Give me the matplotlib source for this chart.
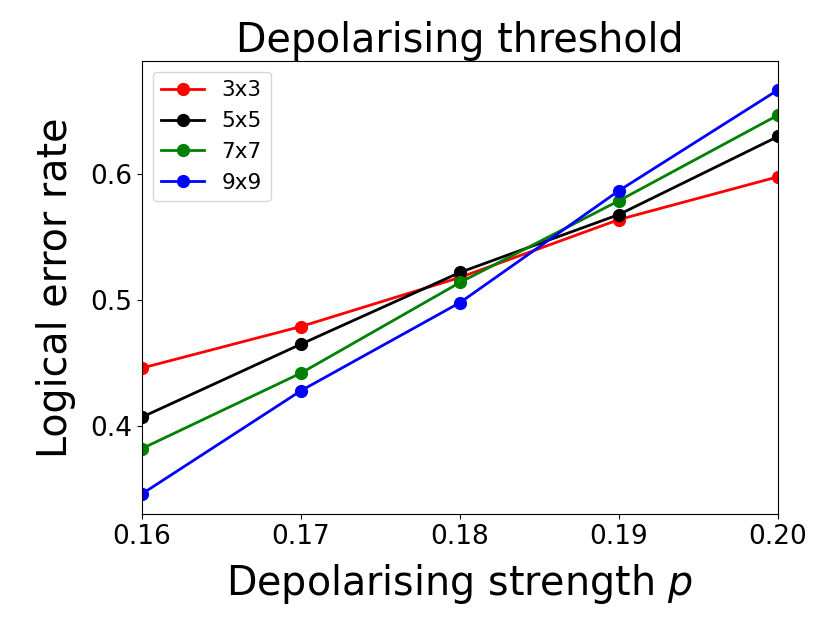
import matplotlib
matplotlib.use("Agg")
import matplotlib.pyplot as plt

p = [0.16, 0.17, 0.18, 0.19, 0.20]
labels = ["3x3", "5x5", "7x7", "9x9"]
colors = ["red", "black", "green", "blue"]
err_3x3 = [0.446, 0.479, 0.518, 0.564, 0.598]
err_5x5 = [0.407, 0.465, 0.522, 0.568, 0.630]
err_7x7 = [0.382, 0.442, 0.514, 0.579, 0.647]
err_9x9 = [0.346, 0.428, 0.498, 0.587, 0.667]
series = [err_3x3, err_5x5, err_7x7, err_9x9]

fig = plt.figure(figsize=(8.3, 6.23), dpi=100)
ax = fig.add_axes([142/830, 1-514/623, (778-142)/830, (514-61)/623])
for y, lab, c in zip(series, labels, colors):
    ax.plot(p, y, "-o", color=c, label=lab, linewidth=2, markersize=8.5)
ax.set_xlim(0.16, 0.20)
ax.set_ylim(0.330, 0.690)
ax.set_xticks(p)
ax.set_xticklabels(["0.16", "0.17", "0.18", "0.19", "0.20"])
ax.set_yticks([0.4, 0.5, 0.6])
ax.set_yticklabels(["0.4", "0.5", "0.6"])
ax.tick_params(labelsize=19)
ax.set_xlabel("Depolarising strength $p$", fontsize=28.5, labelpad=9)
ax.set_ylabel("Logical error rate", fontsize=28.5, labelpad=10)
ax.set_title("Depolarising threshold", fontsize=28.5, pad=6)
ax.legend(loc="upper left", fontsize=15.5)
fig.savefig("out.png", dpi=100)
